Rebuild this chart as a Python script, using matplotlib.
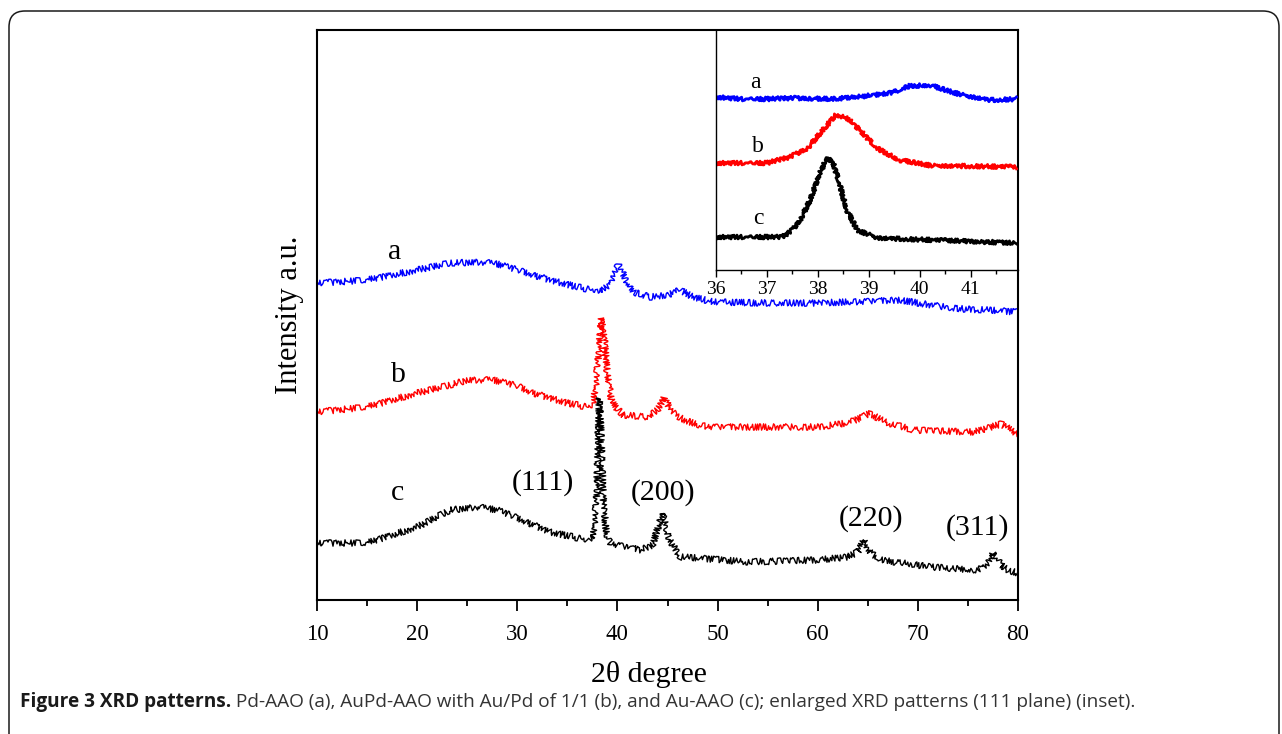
import matplotlib
matplotlib.use("Agg")
import matplotlib.pyplot as plt
from matplotlib.patches import FancyBboxPatch
from matplotlib.ticker import MultipleLocator

# ---------------- data ----------------
# main panel: 2-theta (degree) and intensity (a.u., stacked offsets)
a_tt = [10, 12, 15, 18, 20, 23.3, 26.3, 28, 30, 33.3, 36, 37.5, 38.5, 39.2, 39.7, 40.1,
        40.5, 41, 41.6, 43.3, 45, 46.3, 47.5, 49.6, 55, 59.6, 63, 66, 68.3, 70, 72,
        74.6, 77, 80]
a_int = [317, 318, 320, 326, 330, 337, 338, 336, 330, 320, 313, 310, 310, 315, 328, 335,
         328, 317, 308, 303, 305, 310, 303, 298, 297, 297, 298, 299, 300, 297, 294,
         291, 290, 288]

b_tt = [10, 15, 20, 23.3, 25, 27.6, 30, 31.6, 35, 37, 37.5, 37.8, 38.1, 38.4, 38.7,
        39.0, 39.4, 39.8, 40.6, 43, 44, 44.7, 45.3, 46.3, 48, 49.6, 56, 60, 63, 64.5,
        65.2, 66, 67, 69.6, 72, 75.6, 77, 78.3, 79, 80]
b_int = [188, 193, 207, 215, 220, 220, 214, 207, 197, 193, 195, 210, 245, 282, 260,
         225, 200, 193, 185, 183, 190, 203, 190, 182, 175, 173, 173, 173, 177, 183,
         187, 182, 177, 170, 169, 168, 172, 176, 172, 165]

c_tt = [10, 15, 20, 23.3, 26, 28, 30, 33.3, 37, 37.6, 37.9, 38.1, 38.2, 38.35, 38.6,
        38.9, 39.3, 40, 42.3, 43.5, 44.5, 45.2, 46.3, 48, 53, 60, 63, 64, 64.6, 65.2,
        66.3, 71.3, 76, 76.8, 77.6, 78.3, 79, 80]
c_int = [57, 57, 73, 90, 93, 90, 82, 68, 60, 64, 100, 170, 202, 170, 100,
         65, 57, 55, 50, 55, 87, 60, 43, 42, 38, 40, 43, 48, 60, 48,
         40, 33, 30, 35, 48, 35, 30, 27]

# inset: enlarged (111) region
ia_tt = [36, 36.5, 37.0, 37.5, 38.3, 38.95, 39.5, 39.8, 40.2, 40.5, 40.9, 41.4, 41.9]
ia_int = [173, 171, 171, 172, 171, 174, 178, 184, 185, 180, 174, 170, 171]
ib_tt = [36, 37.0, 37.45, 37.8, 38.1, 38.35, 38.57, 38.83, 39.15, 39.6, 40.27, 40.9, 41.9]
ib_int = [107, 107, 113, 122, 140, 155, 152, 140, 122, 110, 104, 104, 103]
ic_tt = [36, 37.3, 37.5, 37.65, 37.85, 38.04, 38.18, 38.3, 38.44, 38.57, 38.77, 39.16,
         40.27, 41.9]
ic_int = [33, 33, 40, 50, 70, 97, 112, 108, 83, 60, 40, 32, 30, 27]

curve_labels = ["a", "b", "c"]
plane_labels = ["(111)", "(200)", "(220)", "(311)"]
main_ticks = [10, 20, 30, 40, 50, 60, 70, 80]
inset_ticks = [36, 37, 38, 39, 40, 41]

# ---------------- figure ----------------
W, H, DPI = 1282, 734, 100
fig = plt.figure(figsize=(W / DPI, H / DPI), dpi=DPI)
fig.patch.set_facecolor("white")
serif = "Liberation Serif"

# rounded frame
frame = FancyBboxPatch((0.09, -0.5), 12.70, 7.23 + 0.5,
                       boxstyle="round,pad=0,rounding_size=0.16",
                       transform=fig.dpi_scale_trans, fill=False,
                       edgecolor="#1a1a1a", linewidth=1.1, zorder=0)
fig.patches.append(frame)

ax = fig.add_axes([317 / W, 1 - 600 / H, (1018 - 317) / W, 570 / H])
ax.set_xlim(10, 80)
ax.set_ylim(0, 570)

def noisy(line, scale, length):
    line.set_sketch_params(scale=scale, length=length, randomness=2.0)

for tt, yy, col in [(a_tt, a_int, "#0000ff"), (b_tt, b_int, "#ff0000"), (c_tt, c_int, "#000000")]:
    ln, = ax.plot(tt, yy, color=col, linewidth=1.0, solid_joinstyle="round")
    noisy(ln, 3.2, 1.0)

ax.set_yticks([])
ax.set_xticks(main_ticks)
ax.xaxis.set_minor_locator(MultipleLocator(5))
ax.tick_params(axis="x", which="major", direction="out", length=8, width=1.3,
               labelsize=16.5, pad=9)
ax.tick_params(axis="x", which="minor", direction="out", length=4.5, width=1.3)
for lab in ax.get_xticklabels():
    lab.set_fontfamily(serif)
for sp in ax.spines.values():
    sp.set_linewidth(1.5)

fig.text(649 / W, 1 - 675 / H, "2θ degree", fontfamily=serif, fontsize=21.5,
         ha="center", va="center")
ax.set_ylabel("Intensity a.u.", fontfamily=serif, fontsize=22, labelpad=9)

# curve letters
for lab, (x, y) in zip(curve_labels, [(17.8, 348), (18.1, 225), (18.0, 107)]):
    ax.text(x, y, lab, fontfamily=serif, fontsize=21.5, ha="center", va="center")
# plane labels
for lab, (x, y) in zip(plane_labels, [(32.6, 117), (44.6, 107), (65.3, 81), (76.0, 72)]):
    ax.text(x, y, lab, fontfamily=serif, fontsize=21.5, ha="center", va="center")

# ---------------- inset ----------------
axi = fig.add_axes([716 / W, 1 - 270 / H, (1018 - 716) / W, 240 / H])
axi.set_xlim(36, 41.93)
axi.set_ylim(0, 240)
axi.patch.set_alpha(0)
for tt, yy, col in [(ia_tt, ia_int, "#0000ff"), (ib_tt, ib_int, "#ff0000"), (ic_tt, ic_int, "#000000")]:
    ln, = axi.plot(tt, yy, color=col, linewidth=2.0, solid_joinstyle="round")
    noisy(ln, 2.0, 2.0)
axi.set_yticks([])
axi.set_xticks(inset_ticks)
axi.xaxis.set_minor_locator(MultipleLocator(0.5))
axi.tick_params(axis="x", which="major", direction="out", length=5, width=1.0,
                labelsize=14, pad=3)
axi.tick_params(axis="x", which="minor", direction="out", length=3, width=1.0)
for lab in axi.get_xticklabels():
    lab.set_fontfamily(serif)
axi.spines["top"].set_visible(False)
axi.spines["right"].set_visible(False)
axi.spines["left"].set_linewidth(1.0)
axi.spines["bottom"].set_linewidth(1.0)
for lab, (x, y) in zip(curve_labels, [(36.77, 188), (36.83, 124), (36.83, 52)]):
    axi.text(x, y, lab, fontfamily=serif, fontsize=17, ha="center", va="center")

# ---------------- caption ----------------
fig.canvas.draw()
r = fig.canvas.get_renderer()
cap_y = 1 - 702 / H
t1 = fig.text(20 / W, cap_y, "Figure 3 XRD patterns.", fontfamily="Open Sans",
              fontweight="bold", fontsize=13.7, color="#1a1a1a", va="center", ha="left")
bb = t1.get_window_extent(renderer=r)
fig.text(bb.x1 / W, cap_y,
         " Pd-AAO (a), AuPd-AAO with Au/Pd of 1/1 (b), and Au-AAO (c); enlarged XRD patterns (111 plane) (inset).",
         fontfamily="Open Sans", fontsize=13.7, color="#333333", va="center", ha="left")

fig.savefig("out.png", dpi=DPI, facecolor="white")
